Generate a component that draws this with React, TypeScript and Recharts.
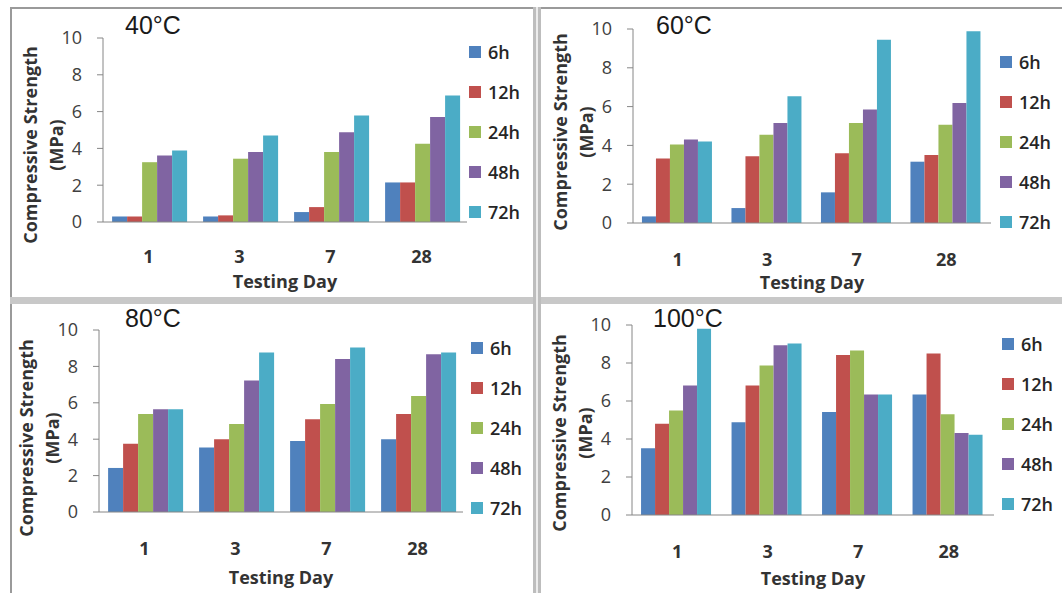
import { Bar, BarChart, Legend, XAxis, YAxis } from "recharts";

const days = ["1", "3", "7", "28"];
const curingTimes = ["6h", "12h", "24h", "48h", "72h"];
const barColors = ["#4F81BD", "#C0504D", "#9BBB59", "#8064A2", "#4BACC6"];
const yTicks = [0, 2, 4, 6, 8, 10];

// compressive strength (MPa): one row per curing time, one value per testing day
const strength40 = [
  [0.3, 0.3, 0.54, 2.15],
  [0.3, 0.36, 0.81, 2.15],
  [3.25, 3.44, 3.8, 4.25],
  [3.62, 3.8, 4.88, 5.7],
  [3.89, 4.7, 5.79, 6.87],
];
const strength60 = [
  [0.34, 0.77, 1.58, 3.16],
  [3.33, 3.44, 3.6, 3.5],
  [4.04, 4.55, 5.15, 5.07],
  [4.3, 5.15, 5.85, 6.19],
  [4.2, 6.53, 9.45, 9.88],
];
const strength80 = [
  [2.42, 3.55, 3.9, 4.0],
  [3.75, 4.0, 5.1, 5.38],
  [5.38, 4.83, 5.93, 6.38],
  [5.64, 7.22, 8.4, 8.67],
  [5.64, 8.76, 9.04, 8.76],
];
const strength100 = [
  [3.51, 4.88, 5.42, 6.34],
  [4.8, 6.82, 8.42, 8.5],
  [5.5, 7.87, 8.66, 5.3],
  [6.82, 8.93, 6.34, 4.32],
  [9.8, 9.02, 6.34, 4.22],
];

const temperatures = ["40°C", "60°C", "80°C", "100°C"];
const strengthSets = [strength40, strength60, strength80, strength100];

type PanelLayout = {
  left: number;
  top: number;
  width: number;
  height: number;
  plot: { left: number; right: number; top: number; bottom: number };
  tickMargin: number;
  legend: { x: number; y: number };
  title: { x: number; y: number };
  yTitleY: number;
  xTitleY: number;
};

const layouts: PanelLayout[] = [
  {
    left: 11, top: 8, width: 522, height: 289,
    plot: { left: 92, right: 66, top: 30, bottom: 75 },
    tickMargin: 28,
    legend: { x: 458, y: 24 },
    title: { x: 125, y: 13 },
    yTitleY: 137,
    xTitleY: 280,
  },
  {
    left: 541, top: 8, width: 521, height: 289,
    plot: { left: 92, right: 71, top: 21, bottom: 74 },
    tickMargin: 30,
    legend: { x: 459, y: 34 },
    title: { x: 656, y: 13 },
    yTitleY: 124,
    xTitleY: 281,
  },
  {
    left: 11, top: 304, width: 522, height: 289,
    plot: { left: 88, right: 70, top: 26, bottom: 81 },
    tickMargin: 30,
    legend: { x: 460, y: 24 },
    title: { x: 125, y: 306 },
    yTitleY: 134,
    xTitleY: 280,
  },
  {
    left: 541, top: 304, width: 521, height: 289,
    plot: { left: 91, right: 68, top: 21, bottom: 78 },
    tickMargin: 30,
    legend: { x: 461, y: 20 },
    title: { x: 653, y: 306 },
    yTitleY: 129,
    xTitleY: 281,
  },
];

const FONT = "'Open Sans', 'DejaVu Sans', sans-serif";
const AXIS_GRAY = "#868686";

function buildRows(values: number[][]) {
  return days.map((day, i) => {
    const row: Record<string, string | number> = { day };
    curingTimes.forEach((t, s) => {
      row[t] = values[s][i];
    });
    return row;
  });
}

// keep legend entries in series order (6h .. 72h) rather than sorted by name
function renderLegend({ payload }: any) {
  const entries = [...(payload ?? [])].sort(
    (a: any, b: any) =>
      curingTimes.indexOf(String(a.value)) - curingTimes.indexOf(String(b.value))
  );
  return (
    <div style={{ display: "flex", flexDirection: "column" }}>
      {entries.map((entry: any) => (
        <div
          key={entry.value}
          style={{ height: 40, display: "flex", alignItems: "center" }}
        >
          <span
            style={{
              width: 12,
              height: 12,
              background: entry.color,
              marginRight: 7,
              display: "inline-block",
            }}
          />
          <span
            style={{
              fontSize: 18,
              color: "#262626",
              fontWeight: 600,
              fontFamily: FONT,
            }}
          >
            {entry.value}
          </span>
        </div>
      ))}
    </div>
  );
}

function StrengthPanel({
  layout,
  title,
  values,
}: {
  layout: PanelLayout;
  title: string;
  values: number[][];
}) {
  const { plot } = layout;
  const plotWidth = layout.width - plot.left - plot.right;
  const rows = buildRows(values);

  return (
    <>
      <div
        style={{
          position: "absolute",
          left: layout.left,
          top: layout.top,
          width: layout.width,
          height: layout.height,
        }}
      >
        <BarChart
          width={layout.width}
          height={layout.height}
          data={rows}
          margin={{ top: plot.top, right: plot.right, bottom: 0, left: 0 }}
          barCategoryGap="10%"
          barGap={0}
        >
          <XAxis
            dataKey="day"
            height={plot.bottom}
            tickSize={0}
            tickMargin={layout.tickMargin}
            stroke={AXIS_GRAY}
            tick={{ fill: "#333333", fontSize: 18, fontWeight: 700 }}
            label={() => (
              <text
                x={plot.left + plotWidth / 2}
                y={layout.xTitleY}
                textAnchor="middle"
                fontSize={18}
                fontWeight={700}
                fill="#333333"
                fontFamily={FONT}
              >
                Testing Day
              </text>
            )}
          />
          <YAxis
            type="number"
            domain={[0, 10]}
            ticks={yTicks}
            interval={0}
            width={plot.left}
            tickSize={6}
            tickMargin={15}
            stroke={AXIS_GRAY}
            tick={{ fill: "#404040", fontSize: 18 }}
            label={() => (
              <g fontSize={18} fontWeight={700} fill="#333333" fontFamily={FONT}>
                <text
                  x={plot.left - 73}
                  y={layout.yTitleY}
                  textAnchor="middle"
                  dominantBaseline="central"
                  transform={`rotate(-90 ${plot.left - 73} ${layout.yTitleY})`}
                >
                  Compressive Strength
                </text>
                <text
                  x={plot.left - 47}
                  y={layout.yTitleY}
                  textAnchor="middle"
                  dominantBaseline="central"
                  transform={`rotate(-90 ${plot.left - 47} ${layout.yTitleY})`}
                >
                  (MPa)
                </text>
              </g>
            )}
          />
          {curingTimes.map((t, s) => (
            <Bar
              key={t}
              dataKey={t}
              fill={barColors[s]}
              isAnimationActive={false}
            />
          ))}
          <Legend
            layout="vertical"
            align="center"
            verticalAlign="middle"
            content={renderLegend}
            wrapperStyle={{
              left: layout.legend.x,
              top: layout.legend.y,
              width: 70,
            }}
          />
        </BarChart>
      </div>
      <div
        style={{
          position: "absolute",
          left: layout.title.x,
          top: layout.title.y,
          fontFamily: "'Liberation Sans', Arial, sans-serif",
          fontSize: 25,
          lineHeight: 1,
          color: "#1a1a1a",
          whiteSpace: "nowrap",
        }}
      >
        {title}
      </div>
    </>
  );
}

export default function App() {
  return (
    <div
      style={{
        position: "absolute",
        left: 0,
        top: 0,
        width: 1062,
        height: 593,
        background: "#ffffff",
        overflow: "hidden",
        fontFamily: FONT,
      }}
    >
      {/* panel frame */}
      <div style={{ position: "absolute", left: 10, top: 7, width: 1052, height: 1.5, background: "#9a9a9a" }} />
      <div style={{ position: "absolute", left: 10, top: 7, width: 1.5, height: 586, background: "#9a9a9a" }} />
      <div style={{ position: "absolute", left: 10, top: 297, width: 1052, height: 7, background: "#c8c8c8" }} />
      <div style={{ position: "absolute", left: 533, top: 7, width: 3, height: 586, background: "#bdbdbd" }} />
      <div style={{ position: "absolute", left: 536, top: 7, width: 2, height: 586, background: "#ececec" }} />
      <div style={{ position: "absolute", left: 538, top: 7, width: 3, height: 586, background: "#bdbdbd" }} />

      {layouts.map((layout, i) => (
        <StrengthPanel
          key={temperatures[i]}
          layout={layout}
          title={temperatures[i]}
          values={strengthSets[i]}
        />
      ))}
    </div>
  );
}
